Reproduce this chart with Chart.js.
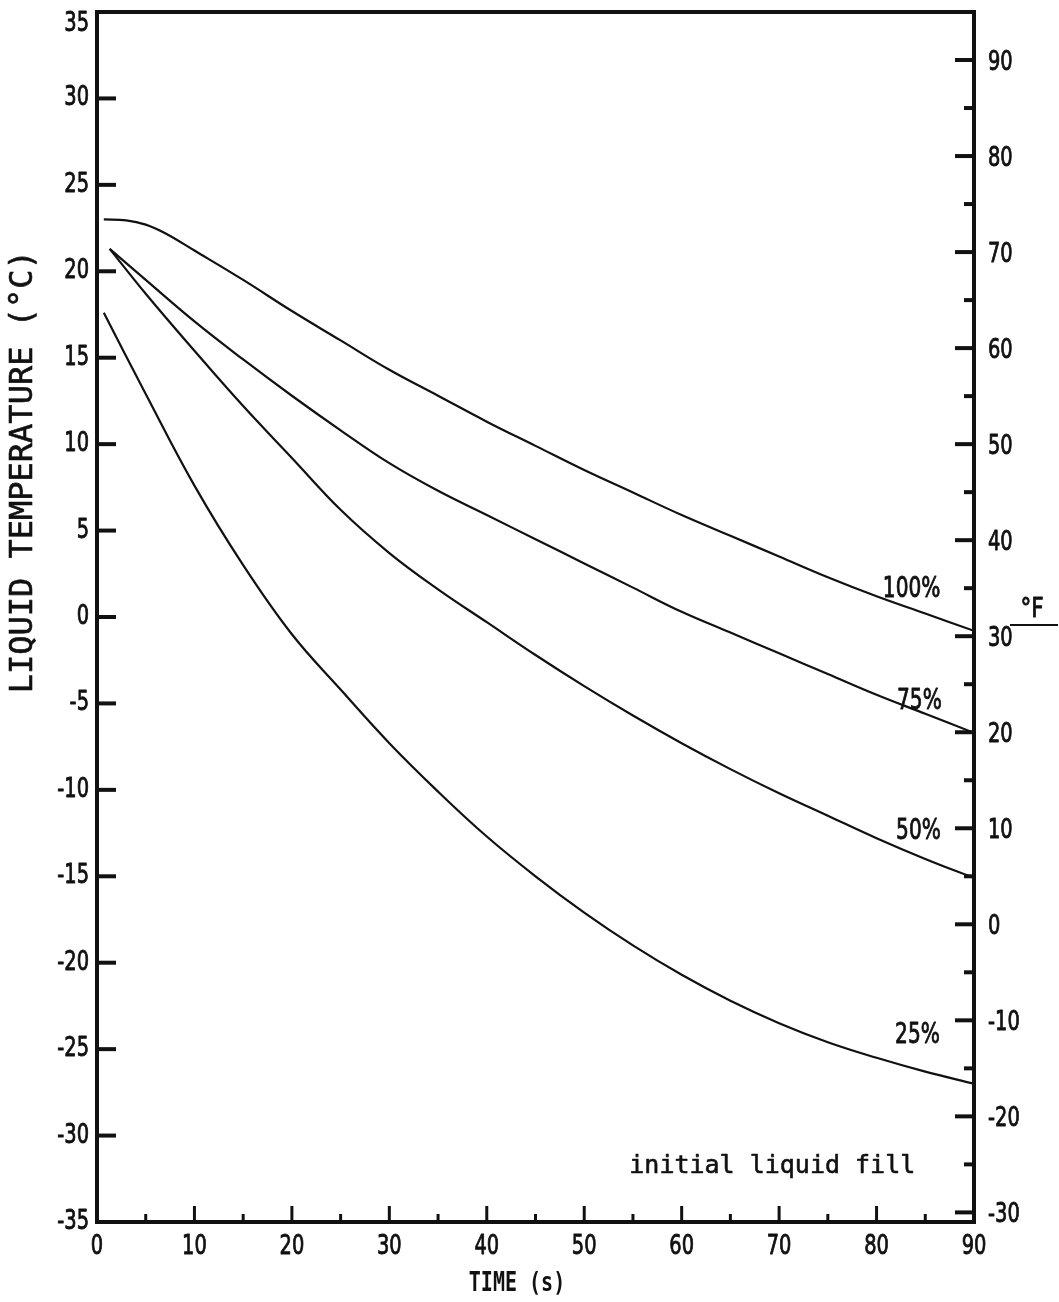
<!DOCTYPE html>
<html>
<head>
<meta charset="utf-8">
<script src="https://cdn.jsdelivr.net/npm/chart.js@4.4.1/dist/chart.umd.min.js"></script>
<style>
  html, body { margin: 0; padding: 0; background: #fff; }
  #wrap { width: 1059px; height: 1302px; position: relative; }
</style>
</head>
<body>
<div id="wrap"><canvas id="chart"></canvas></div>
<script>
// ── Data (time in s, temperature in °C) ──────────────────────────
const times100 = [0.7, 3, 5, 7, 10, 15, 20, 25, 30, 35, 40, 45, 50, 55, 60, 65, 70, 75, 80, 85, 90];
const temps100 = [23.0, 22.95, 22.7, 22.2, 21.2, 19.5, 17.7, 16.0, 14.3, 12.8, 11.3, 9.9, 8.5, 7.2, 5.9, 4.7, 3.5, 2.3, 1.2, 0.2, -0.8];

const times75 = [1.3, 5, 10, 15, 20, 25, 30, 35, 40, 45, 50, 55, 60, 65, 70, 75, 80, 85, 90];
const temps75 = [21.3, 19.5, 17.1, 14.9, 12.8, 10.8, 8.9, 7.3, 5.9, 4.5, 3.1, 1.7, 0.3, -0.9, -2.1, -3.3, -4.5, -5.6, -6.7];

const times50 = [1.3, 5, 10, 15, 20, 25, 30, 35, 40, 45, 50, 55, 60, 65, 70, 75, 80, 85, 90];
const temps50 = [21.3, 18.7, 15.4, 12.2, 9.2, 6.2, 3.7, 1.6, -0.3, -2.2, -4.0, -5.7, -7.3, -8.8, -10.2, -11.5, -12.8, -14.0, -15.1];

const times25 = [0.7, 5, 10, 15, 20, 25, 30, 35, 40, 45, 50, 55, 60, 65, 70, 75, 80, 85, 90];
const temps25 = [17.6, 12.9, 7.6, 3.0, -1.0, -4.2, -7.3, -10.1, -12.7, -15.0, -17.1, -19.0, -20.7, -22.2, -23.5, -24.6, -25.5, -26.3, -27.0];

const fillLabels  = ['100%', '75%', '50%', '25%'];
const fillLabelT  = [83.6, 84.4, 84.3, 84.2];
const fillLabelC  = [1.6, -4.9, -12.4, -24.2];

const timeTicks       = [0, 5, 10, 15, 20, 25, 30, 35, 40, 45, 50, 55, 60, 65, 70, 75, 80, 85, 90];
const celsiusTicks    = [-35, -30, -25, -20, -15, -10, -5, 0, 5, 10, 15, 20, 25, 30, 35];
const fahrenheitTicks = [-30, -25, -20, -15, -10, -5, 0, 5, 10, 15, 20, 25, 30, 35, 40, 45, 50, 55, 60, 65, 70, 75, 80, 85, 90];

const C_MIN = -35, C_MAX = 35;
const toF = c => c * 9 / 5 + 32;

const INK = '#111';
const SQUEEZE = 0.72;

function pts(ts, cs) { return ts.map((t, i) => ({ x: t, y: cs[i] })); }

function drawText(ctx, txt, x, y, font, sx, align, thick) {
  ctx.save();
  ctx.font = font;
  ctx.translate(x, y);
  ctx.scale(sx, 1);
  ctx.textAlign = align || 'center';
  ctx.textBaseline = 'middle';
  ctx.fillStyle = INK;
  ctx.fillText(txt, 0, 0);
  if (thick) {
    ctx.strokeStyle = INK;
    ctx.lineWidth = thick;
    ctx.lineJoin = 'round';
    ctx.strokeText(txt, 0, 0);
  }
  ctx.restore();
}

function tick(ctx, x1, y1, x2, y2, w) {
  ctx.beginPath();
  ctx.lineWidth = w;
  ctx.moveTo(x1, y1);
  ctx.lineTo(x2, y2);
  ctx.stroke();
}

// ── Frame, inward ticks and all lettering ─────────────────────
const paperAxes = {
  id: 'paperAxes',
  afterDraw(chart) {
    const { ctx, chartArea: a, scales } = chart;
    const { x, y, y2 } = scales;
    const tickFont = '27px "DejaVu Sans"';
    ctx.save();
    ctx.strokeStyle = INK;
    ctx.lineCap = 'butt';

    ctx.lineWidth = 4;
    ctx.strokeRect(a.left, a.top, a.right - a.left, a.bottom - a.top);

    // time axis
    timeTicks.forEach(v => {
      const px = x.getPixelForValue(v);
      const major = v % 10 === 0;
      if (v > 0 && v < 90) tick(ctx, px, a.bottom, px, a.bottom - (major ? 16 : 8), 3);
      if (major) drawText(ctx, String(v), px, a.bottom + 25, tickFont, SQUEEZE, 'center', 0.9);
    });

    // celsius axis (left)
    celsiusTicks.forEach(v => {
      const py = y.getPixelForValue(v);
      if (v > C_MIN && v < C_MAX) tick(ctx, a.left, py, a.left + 19, py, 4);
      let ly = py;
      if (v === C_MAX) ly = py + 12;
      drawText(ctx, String(v), a.left - 8, ly, tickFont, SQUEEZE, 'right', 0.9);
    });

    // fahrenheit axis (right)
    fahrenheitTicks.forEach(v => {
      const py = y2.getPixelForValue(v);
      const major = v % 10 === 0;
      tick(ctx, a.right, py, a.right - (major ? 19 : 10), py, 4);
      if (major) drawText(ctx, String(v), a.right + 14, py + 3, tickFont, SQUEEZE, 'left', 0.9);
    });

    // °F unit with underline
    const fy = y2.getPixelForValue(toF(0.4));
    drawText(ctx, '°F', a.right + 58, fy, '27px "DejaVu Sans"', 0.8, 'center', 0.9);
    tick(ctx, a.right + 36, fy + 15, a.right + 84, fy + 15, 2);

    // curve labels
    fillLabels.forEach((txt, i) => {
      drawText(ctx, txt, x.getPixelForValue(fillLabelT[i]), y.getPixelForValue(fillLabelC[i]),
        '28px "DejaVu Sans"', SQUEEZE, 'center', 0.9);
    });
    drawText(ctx, 'initial liquid fill', x.getPixelForValue(69.3), y.getPixelForValue(-31.8),
      '25px "DejaVu Sans Mono"', 1, 'center', 0.6);

    // axis titles
    drawText(ctx, 'TIME (s)', x.getPixelForValue(43.1), a.bottom + 62,
      'bold 26px "DejaVu Sans Mono"', 0.77, 'center');

    ctx.save();
    ctx.translate(24, y.getPixelForValue(8.4));
    ctx.rotate(-Math.PI / 2);
    drawText(ctx, 'LIQUID TEMPERATURE (°C)', 0, 0, '32px "DejaVu Sans Mono"', 1, 'center', 0.6);
    ctx.restore();

    ctx.restore();
  }
};

const lineStyle = {
  borderColor: INK,
  borderWidth: 2.2,
  pointRadius: 0,
  fill: false,
  tension: 0.4,
  yAxisID: 'y'
};

new Chart(document.getElementById('chart'), {
  type: 'line',
  data: {
    datasets: [
      { label: '100%', data: pts(times100, temps100), ...lineStyle },
      { label: '75%',  data: pts(times75,  temps75),  ...lineStyle },
      { label: '50%',  data: pts(times50,  temps50),  ...lineStyle },
      { label: '25%',  data: pts(times25,  temps25),  ...lineStyle },
    ]
  },
  options: {
    responsive: true,
    maintainAspectRatio: false,
    animation: false,
    events: [],
    layout: { padding: { top: 12, left: 0, right: 0, bottom: 0 } },
    plugins: { legend: { display: false }, tooltip: { enabled: false } },
    scales: {
      x: {
        type: 'linear', min: 0, max: 90,
        grid: { display: false }, border: { display: false },
        ticks: { display: false },
        afterFit: s => { s.height = 80; }
      },
      y: {
        type: 'linear', position: 'left', min: C_MIN, max: C_MAX,
        grid: { display: false }, border: { display: false },
        ticks: { display: false },
        afterFit: s => { s.width = 97; }
      },
      y2: {
        type: 'linear', position: 'right', min: toF(C_MIN), max: toF(C_MAX),
        grid: { display: false }, border: { display: false },
        ticks: { display: false },
        afterFit: s => { s.width = 85; }
      }
    }
  },
  plugins: [paperAxes]
});
</script>
</body>
</html>
